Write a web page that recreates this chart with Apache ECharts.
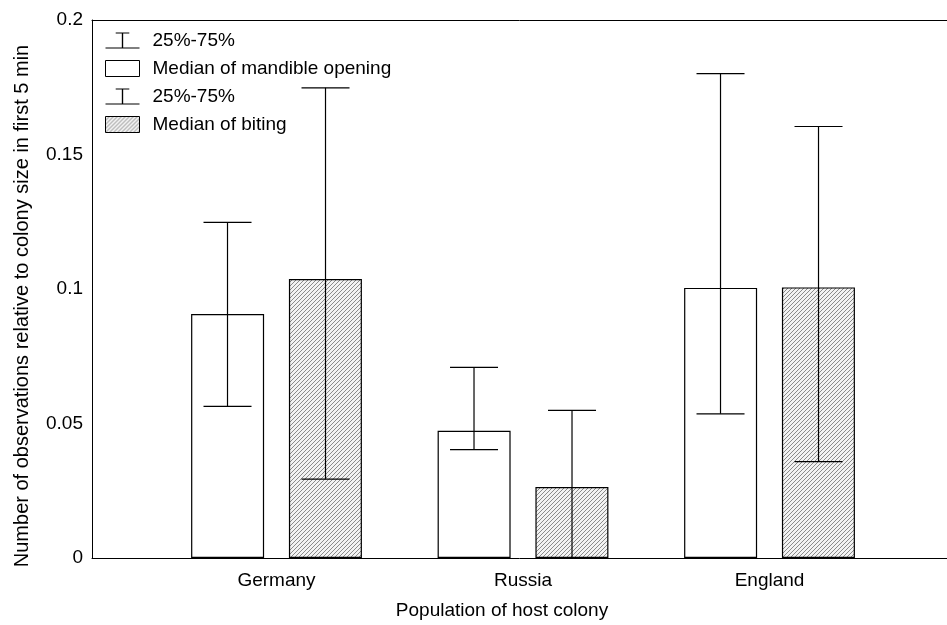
<!DOCTYPE html>
<html>
<head>
<meta charset="utf-8">
<script src="https://cdn.jsdelivr.net/npm/echarts@6/dist/echarts.min.js"></script>
<style>
  html, body { margin: 0; padding: 0; background: #fff; }
  #chart { width: 947px; height: 625px; }
</style>
</head>
<body>
<div id="chart"></div>
<script>
  // data
  var categories = ['Germany', 'Russia', 'England']
  var mandibleMedian = [0.0907, 0.0473, 0.1004]
  var mandibleQ25 = [0.0564, 0.0403, 0.0536]
  var mandibleQ75 = [0.1248, 0.0709, 0.1801]
  var bitingMedian = [0.1037, 0.0264, 0.1006]
  var bitingQ25 = [0.0293, 0, 0.0358]
  var bitingQ75 = [0.1748, 0.0549, 0.1604]
  var yTicks = [0, 0.05, 0.1, 0.15, 0.2]

  var FONT = 'Liberation Sans, Arial, sans-serif'

  // hatch pattern for the biting bars
  function makeHatch() {
    var size = 8
    var c = document.createElement('canvas')
    c.width = size
    c.height = size
    var ctx = c.getContext('2d')
    ctx.fillStyle = '#f2f2f2'
    ctx.fillRect(0, 0, size, size)
    ctx.strokeStyle = '#8a8a8a'
    ctx.lineWidth = 1
    for (var x0 = -size; x0 <= size; x0 += 4) {
      ctx.beginPath()
      ctx.moveTo(x0, size)
      ctx.lineTo(x0 + size, 0)
      ctx.stroke()
    }
    return c
  }
  var hatch = { image: makeHatch(), repeat: 'repeat' }

  function pos(i) { return i + 1 }

  function barData(vals) {
    return vals.map(function (v, i) { return [pos(i), v] })
  }
  function whiskerData(lo, hi) {
    return lo.map(function (v, i) { return [pos(i), v, hi[i]] })
  }

  function whiskerRenderer(offset) {
    return function (params, api) {
      var lo = api.coord([api.value(0), api.value(1)])
      var hi = api.coord([api.value(0), api.value(2)])
      var x = lo[0] + offset
      var half = 24
      var style = { stroke: '#000', lineWidth: 1.2 }
      return {
        type: 'group',
        children: [
          { type: 'line', shape: { x1: x, y1: hi[1], x2: x, y2: lo[1] }, style: style },
          { type: 'line', shape: { x1: x - half, y1: hi[1], x2: x + half, y2: hi[1] }, style: style },
          { type: 'line', shape: { x1: x - half, y1: lo[1], x2: x + half, y2: lo[1] }, style: style }
        ]
      }
    }
  }

  var whiskerIcon = 'path://M30,0h40v7h-40z M48,0h4v100h-4z M0,93h100v7h-100z'

  var chart = echarts.init(document.getElementById('chart'))
  chart.setOption({
    animation: false,
    backgroundColor: '#fff',
    textStyle: { fontFamily: FONT },
    grid: { left: 92, right: 0, top: 20, bottom: 65 },
    legend: {
      orient: 'vertical',
      left: 100,
      top: 26,
      itemWidth: 34,
      itemHeight: 16,
      itemGap: 9,
      symbolKeepAspect: false,
      selectedMode: false,
      textStyle: { fontSize: 19, color: '#000', fontFamily: FONT, padding: [0, 0, 0, 8] },
      formatter: function (name) { return name.trim() },
      data: [
        { name: '25%-75%', icon: whiskerIcon, itemStyle: { color: '#000', borderWidth: 0 } },
        { name: 'Median of mandible opening', icon: 'rect', itemStyle: { color: '#fff', borderColor: '#000', borderWidth: 1 } },
        { name: '25%-75% ', icon: whiskerIcon, itemStyle: { color: '#000', borderWidth: 0 } },
        { name: 'Median of biting', icon: 'rect', itemStyle: { color: hatch, borderColor: '#000', borderWidth: 1 } }
      ]
    },
    xAxis: [{
      type: 'value',
      min: 0.2515,
      max: 3.72,
      name: 'Population of host colony',
      nameLocation: 'middle',
      nameGap: 43,
      nameTextStyle: { fontSize: 19, color: '#000', padding: [0, 35, 0, 0] },
      axisLine: { show: true, lineStyle: { color: '#000', width: 1 } },
      axisTick: { show: false },
      splitLine: { show: false },
      axisLabel: {
        customValues: categories.map(function (c, i) { return pos(i) }),
        formatter: function (v) { return categories[Math.round(v) - 1] || '' },
        fontSize: 19,
        color: '#000',
        margin: 13
      }
    }, {
      type: 'value',
      position: 'top',
      min: 0.2515,
      max: 3.72,
      axisLine: { show: true, lineStyle: { color: '#000', width: 1 } },
      axisTick: { show: false },
      axisLabel: { show: false },
      splitLine: { show: false }
    }],
    yAxis: {
      type: 'value',
      min: 0,
      max: 0.2,
      interval: 0.05,
      name: 'Number of observations relative to colony size in first 5 min',
      nameLocation: 'middle',
      nameGap: 60,
      nameTextStyle: { fontSize: 20, color: '#000', padding: [0, 34, 0, 0] },
      axisLine: { show: true, lineStyle: { color: '#000', width: 1 } },
      axisTick: { show: false },
      splitLine: { show: false },
      axisLabel: {
        customValues: yTicks,
        fontSize: 19,
        color: '#000',
        margin: 9
      }
    },
    series: [
      {
        name: 'Median of mandible opening',
        type: 'bar',
        barWidth: 73,
        barGap: '34%',
        itemStyle: { color: '#fff', borderColor: '#000', borderWidth: 1.2 },
        data: barData(mandibleMedian)
      },
      {
        name: 'Median of biting',
        type: 'bar',
        barWidth: 73,
        barGap: '34%',
        itemStyle: { color: hatch, borderColor: '#000', borderWidth: 1.2 },
        data: barData(bitingMedian)
      },
      {
        name: '25%-75%',
        type: 'custom',
        itemStyle: { color: '#000' },
        renderItem: whiskerRenderer(-49),
        data: whiskerData(mandibleQ25, mandibleQ75),
        z: 5
      },
      {
        name: '25%-75% ',
        type: 'custom',
        itemStyle: { color: '#000' },
        renderItem: whiskerRenderer(49),
        data: whiskerData(bitingQ25, bitingQ75),
        z: 5
      }
    ]
  })
</script>
</body>
</html>
